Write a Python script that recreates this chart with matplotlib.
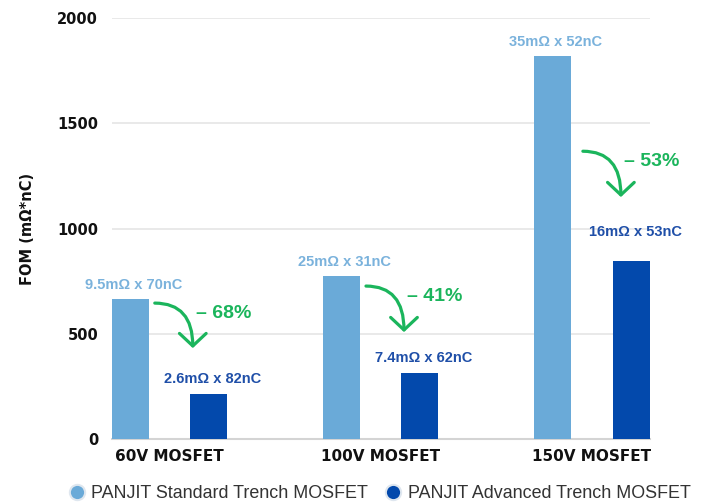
import matplotlib
matplotlib.use("Agg")
import matplotlib.pyplot as plt
from matplotlib.lines import Line2D
import numpy as np

categories = ["60V MOSFET", "100V MOSFET", "150V MOSFET"]
standard_fom = [665, 775, 1820]
advanced_fom = [213, 315, 848]
standard_labels = ["9.5mΩ x 70nC", "25mΩ x 31nC", "35mΩ x 52nC"]
advanced_labels = ["2.6mΩ x 82nC", "7.4mΩ x 62nC", "16mΩ x 53nC"]
reductions = ["– 68%", "– 41%", "– 53%"]
series_names = ["PANJIT Standard Trench MOSFET", "PANJIT Advanced Trench MOSFET"]
yticks = [0, 500, 1000, 1500, 2000]

# annotation arrow anchors (start y, end y) in data units
arrow_start_y = [646, 727, 1368]
arrow_end_y = [432, 508, 1150]

C_STD = "#6aaad8"
C_ADV = "#0349ac"
C_STD_TXT = "#7ab2dc"
C_ADV_TXT = "#1f4fa8"
C_GREEN = "#1bb55c"

fig = plt.figure(figsize=(7.01, 5.04), dpi=100)
ax = fig.add_axes([0.1598, 0.1290, 0.7675, 0.8347])

x = np.arange(len(categories))
w = 0.175
off = 0.185
ax.bar(x - off, standard_fom, width=w, color=C_STD, zorder=3)
ax.bar(x + off, advanced_fom, width=w, color=C_ADV, zorder=3)

ax.set_xlim(-0.2725, 2.275)
ax.set_ylim(0, 2000)
ax.set_yticks(yticks)
ax.set_yticklabels([str(t) for t in yticks], fontweight="bold", fontsize=10.5,
                   family="DejaVu Sans", color="#111111")
ax.set_xticks(x)
ax.set_xticklabels(categories, fontweight="bold", fontsize=11, family="DejaVu Sans",
                   color="#111111")
ax.tick_params(axis="y", length=0, pad=10)
ax.tick_params(axis="x", length=0, pad=7)
ax.grid(axis="y", color="#e3e3e3", linewidth=1.1, zorder=0)
ax.set_axisbelow(True)
for s in ["top", "right", "left"]:
    ax.spines[s].set_visible(False)
ax.spines["bottom"].set_color("#d4d4d4")
ax.spines["bottom"].set_linewidth(1.5)

ax.set_ylabel("FOM (mΩ*nC)", fontweight="bold", fontsize=10.5, family="DejaVu Sans",
              color="#111111", labelpad=16)

for i in range(len(categories)):
    ax.annotate(standard_labels[i], xy=(x[i] - off, standard_fom[i]),
                xytext=(3, 14), textcoords="offset pixels", ha="center", va="center",
                fontsize=10.5, fontweight="bold", family="Liberation Sans", color=C_STD_TXT)
    adv_off = 29 if i == 2 else 15
    ax.annotate(advanced_labels[i], xy=(x[i] + off, advanced_fom[i]),
                xytext=(4, adv_off), textcoords="offset pixels", ha="center", va="center",
                fontsize=10.5, fontweight="bold", family="Liberation Sans", color=C_ADV_TXT)
    x0 = x[i] - off + 0.115 if i < 2 else x[i] - 0.043
    x1 = x0 + 0.18
    ax.annotate("", xy=(x1, arrow_end_y[i]), xytext=(x0, arrow_start_y[i]),
                arrowprops=dict(arrowstyle="->,head_length=0.45,head_width=0.48",
                                connectionstyle="angle3,angleA=0,angleB=90",
                                color=C_GREEN, lw=2.3, mutation_scale=20,
                                shrinkA=0, shrinkB=0))
    ax.annotate(reductions[i], xy=(x1, arrow_start_y[i]), xytext=(3, -10),
                textcoords="offset pixels", ha="left", va="center",
                fontsize=14, fontweight="bold", family="Liberation Sans", color=C_GREEN)

handles = [Line2D([], [], linestyle="none", marker="o", markersize=11,
                  markerfacecolor=C_STD, markeredgecolor="#dfe7ef", markeredgewidth=1.5),
           Line2D([], [], linestyle="none", marker="o", markersize=11,
                  markerfacecolor=C_ADV, markeredgecolor="#dfe7ef", markeredgewidth=1.5)]
fig.legend(handles, series_names, loc="lower center", bbox_to_anchor=(0.541, -0.028),
           ncol=2, frameon=False, handletextpad=0.3, columnspacing=0.9,
           prop=dict(family="Liberation Sans", size=12.9), labelcolor="#333333",
           handlelength=1.0)

fig.savefig("out.png", dpi=100)
